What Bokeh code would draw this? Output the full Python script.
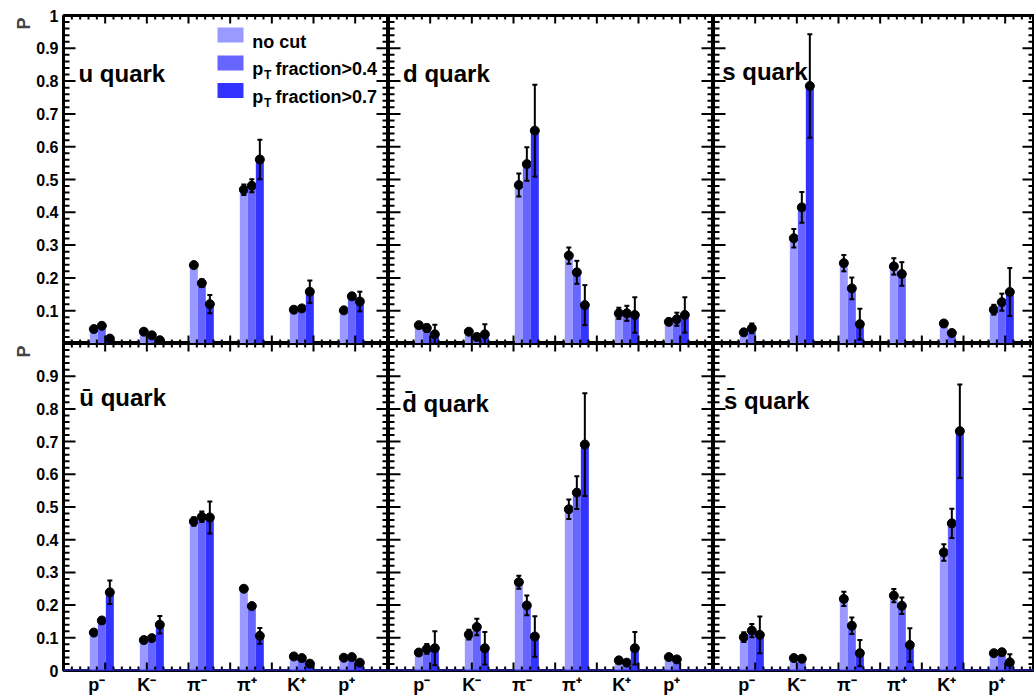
import math
from bokeh.plotting import figure
from bokeh.models import (Range1d, LinearAxis, FixedTicker, Label, Whisker, TeeHead,
                          ColumnDataSource, Span, CustomJSTickFormatter, Title)
from bokeh.layouts import gridplot
from bokeh.embed import file_html
from bokeh.resources import INLINE

# ---------------- data ----------------
categories = ["p\u207b", "K\u207b", "\u03c0\u207b", "\u03c0\u207a", "K\u207a", "p\u207a"]
series_labels = ["no cut", "fraction>0.4", "fraction>0.7"]
series_colors = ["#9999ff", "#6666ff", "#3333ff"]

# rows: no cut, pT fraction>0.4, pT fraction>0.7 ; columns follow `categories`
u_P = [[0.044, 0.036, 0.239, 0.469, 0.103, 0.101],
       [0.054, 0.025, 0.184, 0.481, 0.107, 0.144],
       [0.015, 0.010, 0.120, 0.561, 0.158, 0.128]]
u_err = [[0.004, 0.003, 0.006, 0.016, 0.005, 0.005],
         [0.005, 0.004, 0.012, 0.020, 0.006, 0.008],
         [0.005, 0.004, 0.028, 0.060, 0.034, 0.030]]

d_P = [[0.056, 0.036, 0.483, 0.268, 0.092, 0.066],
       [0.047, 0.020, 0.547, 0.217, 0.092, 0.074],
       [0.028, 0.028, 0.649, 0.117, 0.087, 0.087]]
d_err = [[0.006, 0.004, 0.035, 0.025, 0.017, 0.006],
         [0.012, 0.005, 0.051, 0.035, 0.023, 0.020],
         [0.029, 0.031, 0.140, 0.061, 0.054, 0.054]]

s_P = [[0.034, 0.321, 0.245, 0.235, 0.061, 0.103],
       [0.046, 0.415, 0.168, 0.212, 0.032, 0.126],
       [None, 0.785, 0.059, None, None, 0.157]]
s_err = [[0.004, 0.028, 0.025, 0.025, 0.004, 0.015],
         [0.015, 0.047, 0.033, 0.036, 0.004, 0.026],
         [None, 0.158, 0.047, None, None, 0.073]]

ubar_P = [[0.116, 0.093, 0.456, 0.250, 0.043, 0.039],
          [0.153, 0.099, 0.470, 0.197, 0.038, 0.041],
          [0.239, 0.140, 0.468, 0.106, 0.021, 0.024]]
ubar_err = [[0.004, 0.004, 0.013, 0.005, 0.003, 0.003],
            [0.005, 0.005, 0.016, 0.006, 0.004, 0.004],
            [0.036, 0.027, 0.049, 0.024, 0.004, 0.004]]

dbar_P = [[0.055, 0.110, 0.270, 0.493, 0.031, 0.041],
          [0.066, 0.133, 0.199, 0.544, 0.024, 0.034],
          [0.068, 0.068, 0.104, 0.691, 0.068, None]]
dbar_err = [[0.004, 0.015, 0.020, 0.030, 0.003, 0.003],
            [0.015, 0.025, 0.030, 0.050, 0.003, 0.003],
            [0.052, 0.050, 0.062, 0.157, 0.050, None]]

sbar_P = [[0.102, 0.038, 0.219, 0.229, 0.361, 0.053],
          [0.122, 0.036, 0.137, 0.198, 0.450, 0.056],
          [0.109, None, 0.053, 0.078, 0.732, 0.025]]
sbar_err = [[0.015, 0.004, 0.022, 0.020, 0.025, 0.004],
            [0.020, 0.004, 0.025, 0.025, 0.045, 0.010],
            [0.056, None, 0.040, 0.051, 0.143, 0.025]]

panels = [("u quark", u_P, u_err), ("d quark", d_P, d_err), ("s quark", s_P, s_err),
          ("\u016b quark", ubar_P, ubar_err), ("d\u0304 quark", dbar_P, dbar_err),
          ("s\u0304 quark", sbar_P, sbar_err)]

# ---------------- layout / style ----------------
FONT = "Liberation Sans"
FRAME_W, FRAME_H = 325, 328
LEFT_B, TOP_B, BOT_B = 63, 15, 26
X_MAX = 7.8
BIN_START, BIN_W, BAR_OFF, BAR_W = 0.2, 1.2, 0.36, 0.16
title_pos = [(0.36, 0.822), (0.35, 0.824), (0.21, 0.829),
             (0.38, 0.834), (0.33, 0.818), (0.25, 0.825)]

Y_MAJOR = [round(0.1 * k, 1) for k in range(11)]
Y_MINOR = [round(0.02 * k, 2) for k in range(51) if k % 5]
X_MAJOR = [1, 2, 3, 4, 5, 6, 7]
X_MINOR = [round(0.2 * k, 1) for k in range(40) if k % 5]


def bar_x(i, k):
    return BIN_START + BIN_W * i + (BAR_OFF + BAR_W * (k + 0.5)) * BIN_W


def draw_ticks(p, xend, fw):
    """Inward ROOT-style ticks on all four frame sides (lengths given in pixels)."""
    dx = xend / fw          # data units per pixel (x)
    dy = 1.0 / FRAME_H      # data units per pixel (y)
    kw = dict(line_color="black", line_width=2)
    for ys, ln in ((Y_MAJOR, 12), (Y_MINOR, 6)):
        n = len(ys)
        p.segment(x0=[0] * n, y0=ys, x1=[ln * dx] * n, y1=ys, **kw)
        p.segment(x0=[xend] * n, y0=ys, x1=[xend - ln * dx] * n, y1=ys, **kw)
    for xs, ln in ((X_MAJOR, 8), (X_MINOR, 4)):
        xs = [x for x in xs if x < xend]
        n = len(xs)
        p.segment(x0=xs, y0=[0] * n, x1=xs, y1=[ln * dy] * n, **kw)
        p.segment(x0=xs, y0=[1] * n, x1=xs, y1=[1 - ln * dy] * n, **kw)


figs = []
for idx, (title, vals, errs) in enumerate(panels):
    row, col = divmod(idx, 3)
    fw = FRAME_W if col < 2 else 321
    xend = X_MAX * fw / FRAME_W
    lb = LEFT_B if col == 0 else 0
    tb = TOP_B if row == 0 else 0
    bb = BOT_B if row == 1 else 0
    p = figure(width=fw + lb, height=FRAME_H + tb + bb,
               x_range=Range1d(0, xend), y_range=Range1d(0, 1),
               output_backend="svg", toolbar_location=None,
               x_axis_location=None, y_axis_location=None,
               min_border_left=lb, min_border_right=0,
               min_border_top=tb, min_border_bottom=bb,
               outline_line_color="black", outline_line_width=3,
               background_fill_color="white", border_fill_color="white")
    p.grid.grid_line_color = None

    if col == 0:
        js = ("return tick < 0.05 ? '' : String(Math.round(tick*10)/10);" if row == 0
              else "return tick > 0.95 ? '' : String(Math.round(tick*10)/10);")
        yax = LinearAxis(ticker=FixedTicker(ticks=Y_MAJOR),
                         formatter=CustomJSTickFormatter(code=js),
                         axis_line_color=None, major_tick_in=0, major_tick_out=0,
                         minor_tick_in=0, minor_tick_out=0,
                         major_label_standoff=5, major_label_text_font=FONT,
                         major_label_text_font_style="bold",
                         major_label_text_font_size="16px",
                         major_label_text_color="black")
        p.add_layout(yax, "left")
        p.add_layout(Title(text="P", align="right", text_font=FONT,
                           text_font_style="bold", text_font_size="18px",
                           standoff=0, offset=2), "left")

    if row == 1:
        centers = [BIN_START + BIN_W * (i + 0.5) for i in range(len(categories))]
        xax = LinearAxis(ticker=FixedTicker(ticks=centers),
                         formatter=CustomJSTickFormatter(
                             args=dict(labels=categories, start=BIN_START, w=BIN_W),
                             code="return labels[Math.round((tick - start)/w - 0.5)];"),
                         axis_line_color=None, major_tick_in=0, major_tick_out=0,
                         minor_tick_in=0, minor_tick_out=0,
                         major_label_standoff=4, major_label_text_font=FONT,
                         major_label_text_font_style="bold",
                         major_label_text_font_size="18px",
                         major_label_text_color="black")
        p.add_layout(xax, "below")

    # bars, error bars, markers
    for k in range(3):
        xs, tops, ups, los = [], [], [], []
        for i in range(len(categories)):
            v = vals[k][i]
            if v is None:
                continue
            e = errs[k][i]
            xs.append(bar_x(i, k))
            tops.append(v)
            ups.append(v + e)
            los.append(v - e)
        src = ColumnDataSource(dict(x=xs, top=tops, upper=ups, lower=los))
        p.vbar(x="x", top="top", bottom=0, width=BAR_W * BIN_W, source=src,
               fill_color=series_colors[k], line_color=None)
        wk = Whisker(base="x", upper="upper", lower="lower", source=src,
                     line_color="black", line_width=2, level="overlay",
                     upper_head=TeeHead(size=5, line_color="black", line_width=2),
                     lower_head=TeeHead(size=5, line_color="black", line_width=2))
        p.add_layout(wk)
        p.scatter(x="x", y="top", source=src, size=9, marker="circle",
                  fill_color="black", line_color="black")

    if row == 1:
        p.add_layout(Span(location=0, dimension="width", line_color="#3333ff",
                          line_width=2, level="overlay"))

    draw_ticks(p, xend, fw)

    # panel title
    tx, ty = title_pos[idx]
    p.add_layout(Label(x=tx, y=ty, text=title, text_font=FONT, text_font_style="bold",
                       text_font_size="24px", text_color="black",
                       text_baseline="alphabetic", text_align="left"))

    if idx == 0:
        # legend
        sw_y = [0.9405, 0.855, 0.771]
        base_y = [0.9185, 0.836, 0.751]
        p.rect(x=[4.008] * 3, y=sw_y, width=26, height=15,
               width_units="screen", height_units="screen",
               fill_color=series_colors, line_color=None)
        p.add_layout(Label(x=4.528, y=base_y[0], text=series_labels[0], text_font=FONT,
                           text_font_style="bold", text_font_size="18px",
                           text_baseline="alphabetic", text_color="black"))
        for r in (1, 2):
            p.add_layout(Label(x=4.528, y=base_y[r], text="p", text_font=FONT,
                               text_font_style="bold", text_font_size="18px",
                               text_baseline="alphabetic", text_color="black"))
            p.add_layout(Label(x=4.812, y=base_y[r] - 0.0183, text="T", text_font=FONT,
                               text_font_style="bold", text_font_size="12px",
                               text_baseline="alphabetic", text_color="black"))
            p.add_layout(Label(x=5.088, y=base_y[r], text=series_labels[r], text_font=FONT,
                               text_font_style="bold", text_font_size="18px",
                               text_baseline="alphabetic", text_color="black"))
    figs.append(p)

grid = gridplot([figs[0:3], figs[3:6]], toolbar_location=None)

open("out.html", "w").write(file_html(grid, INLINE))
